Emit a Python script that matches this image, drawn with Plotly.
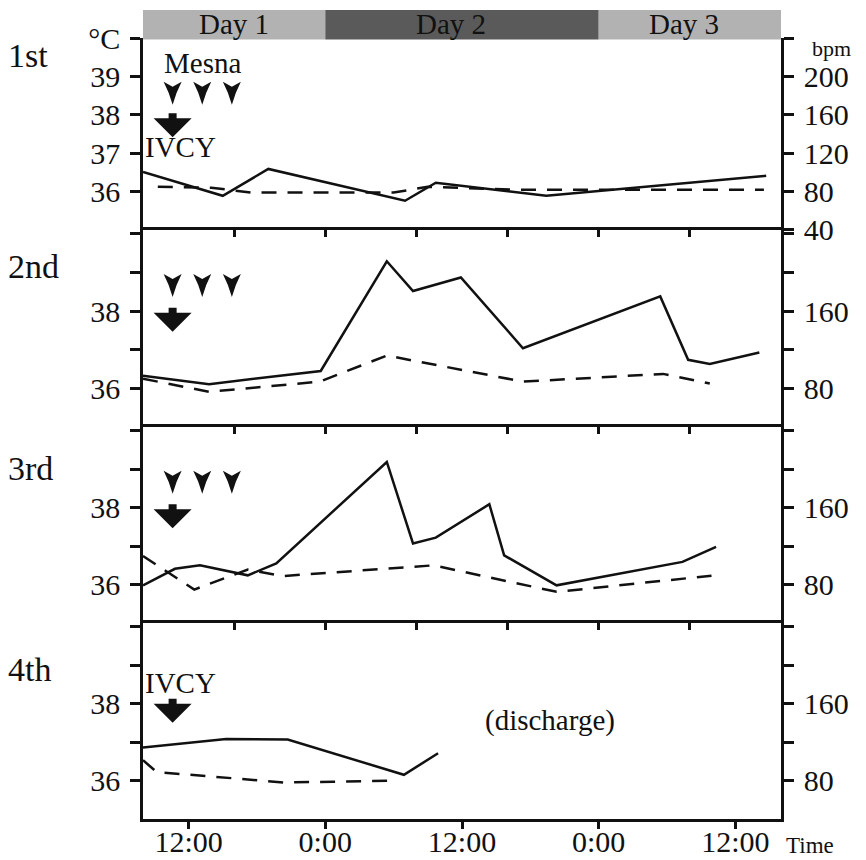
import plotly.graph_objects as go

# ---------------- data (time in hours from Day 1 0:00) ----------------
# Panel 1 (1st course)
p1_temp_t = [8, 15, 19, 31, 33.7, 43.4, 62.7]
p1_temp = [36.51, 35.89, 36.59, 35.76, 36.23, 35.89, 36.41]
p1_hr_t = [9.3, 14, 17.5, 30, 33, 40.5, 62.5]
p1_hr = [85, 84, 79, 79, 85, 82, 82]

# Panel 2 (2nd course)
p2_temp_t = [8, 13.8, 23.6, 29.4, 31.7, 35.9, 41.35, 53.4, 55.85, 57.75, 62.1]
p2_temp = [36.33, 36.11, 36.45, 39.29, 38.52, 38.87, 37.04, 38.38, 36.74, 36.63, 36.93]
p2_hr_t = [8, 13.8, 23.5, 29.4, 41.35, 53.65, 57.75]
p2_hr = [90, 76.5, 87, 114, 87, 95, 85]

# Panel 3 (3rd course)
p3_temp_t = [8, 10.8, 13, 17.2, 19.7, 29.4, 31.7, 33.7, 38.4, 39.7, 44.3, 55.35, 58.3]
p3_temp = [35.98, 36.41, 36.50, 36.24, 36.55, 39.19, 37.07, 37.22, 38.09, 36.76, 35.98, 36.59, 36.98]
p3_hr_t = [8, 12.5, 17.2, 20.2, 33.5, 44.3, 57.9]
p3_hr = [109.6, 74.8, 95.6, 88.8, 100, 72.4, 89.2]

# Panel 4 (4th course)
p4_temp_t = [8, 15.3, 20.7, 30.9, 33.9]
p4_temp = [36.86, 37.08, 37.07, 36.15, 36.71]
p4_hr_t = [8, 9.2, 15.9, 20.3, 24.7, 30.25]
p4_hr = [101.2, 88.8, 82.4, 78, 78.8, 80]

panel_labels = ["1st", "2nd", "3rd", "4th"]
day_labels = ["Day 1", "Day 2", "Day 3"]
day_bounds = [8, 24, 48, 64]
day_label_t = [16, 35, 55.5]
time_tickvals = [12, 24, 36, 48, 60]
time_ticktext = ["12:00", "0:00", "12:00", "0:00", "12:00"]
mesna_times = [10.6, 13.2, 15.8]
ivcy_time = 10.6

# ---------------- figure ----------------
FONT = "Liberation Serif"
LW = 2.5
fig = go.Figure()

panels = [
    (p1_temp_t, p1_temp, p1_hr_t, p1_hr),
    (p2_temp_t, p2_temp, p2_hr_t, p2_hr),
    (p3_temp_t, p3_temp, p3_hr_t, p3_hr),
    (p4_temp_t, p4_temp, p4_hr_t, p4_hr),
]
domains = [[0.7542, 1.0], [0.5019, 0.7542], [0.2510, 0.5019], [0.0, 0.2510]]

def yname(i, right=False):
    n = 2 * i + (2 if right else 1)
    return "y" if n == 1 else f"y{n}"

def ykey(i, right=False):
    n = 2 * i + (2 if right else 1)
    return "yaxis" if n == 1 else f"yaxis{n}"

for i, (tt, tv, ht, hv) in enumerate(panels):
    fig.add_trace(go.Scatter(x=tt, y=tv, xaxis="x", yaxis=yname(i), mode="lines",
                             line=dict(color="#111", width=LW), showlegend=False,
                             name="Temperature"))
    fig.add_trace(go.Scatter(x=ht, y=hv, xaxis="x", yaxis=yname(i, True), mode="lines",
                             line=dict(color="#111", width=LW, dash="15px,11px"),
                             showlegend=False, name="Heart rate"))

# dummy traces to attach top tick axes
for k, i in zip([2, 3, 4], [1, 2, 3]):
    fig.add_trace(go.Scatter(x=[36], y=[36], xaxis=f"x{k}", yaxis=yname(i), mode="markers",
                             marker=dict(opacity=0), showlegend=False, hoverinfo="skip"))

axis_common = dict(showline=True, linewidth=LW, linecolor="#111", ticks="outside",
                   tickwidth=LW, tickcolor="#111", showgrid=False, zeroline=False,
                   automargin=False,
                   tickfont=dict(family=FONT, size=30, color="#111"))

layout = dict(
    width=866, height=860,
    margin=dict(l=143, r=85, t=38, b=41, autoexpand=False),
    paper_bgcolor="white", plot_bgcolor="white",
    font=dict(family=FONT, color="#111"),
    xaxis=dict(domain=[0, 1], range=[8, 64], anchor="y7", side="bottom",
               tickvals=time_tickvals, ticktext=time_ticktext, ticklen=7,
               ticklabelstandoff=-13,
               showline=True, linewidth=LW, linecolor="#111", ticks="outside",
               tickwidth=LW, tickcolor="#111", showgrid=False, zeroline=False,
               automargin=False,
               tickfont=dict(family=FONT, size=30, color="#111")),
)
for k, i in zip([2, 3, 4], [1, 2, 3]):
    layout[f"xaxis{k}"] = dict(overlaying="x", anchor=yname(i), side="top", range=[8, 64],
                               tickvals=[16, 24, 32, 40, 48, 56], ticks="inside", ticklen=7,
                               tickwidth=LW, tickcolor="#111", showticklabels=False,
                               showline=True, linewidth=LW, linecolor="#111",
                               showgrid=False, zeroline=False, automargin=False)

for i in range(4):
    if i == 0:
        lrange = [35, 40]
        lt = dict(tickvals=[36, 37, 38, 39, 40], ticktext=["36", "37", "38", "39", "°C"])
        rrange = [40, 240]
        rt = dict(tickvals=[40, 80, 120, 160, 200, 240], ticktext=["40", "80", "120", "160", "200", ""])
    else:
        lrange = [35, 40.1]
        lt = dict(tickvals=[36, 37, 38, 39, 40], ticktext=["36", "", "38", "", ""])
        rrange = [40, 244]
        rt = dict(tickvals=[80, 120, 160, 200, 240], ticktext=["80", "", "160", "", ""])
    layout[ykey(i)] = dict(domain=domains[i], range=lrange, anchor="x", side="left",
                           ticklen=10, ticklabelstandoff=4, **lt, **axis_common)
    layout[ykey(i, True)] = dict(overlaying=yname(i), range=rrange, anchor="x", side="right",
                                 ticklen=10, ticklabelstandoff=4, **rt, **axis_common)

fig.update_layout(**layout)

# ---------------- day band ----------------
day_colors = ["#b2b2b2", "#5a5a5a", "#b2b2b2"]
for j in range(3):
    fig.add_shape(type="rect", xref="x", yref="paper", x0=day_bounds[j], x1=day_bounds[j + 1],
                  y0=0.998, y1=1.036, fillcolor=day_colors[j], line=dict(width=0), layer="below")
    fig.add_annotation(x=day_label_t[j], y=1.0175, xref="x", yref="paper", text=day_labels[j],
                       showarrow=False, font=dict(family=FONT, size=29, color="#111"),
                       xanchor="center", yanchor="middle")

# ---------------- panel labels ----------------
label_y = [0.978, 0.707, 0.449, 0.191]
for i in range(4):
    fig.add_annotation(x=-0.214, y=label_y[i], xref="paper", yref="paper", text=panel_labels[i],
                       showarrow=False, font=dict(family=FONT, size=34, color="#111"),
                       xanchor="left", yanchor="middle")

fig.add_annotation(x=1.045, y=0.987, xref="paper", yref="paper", text="bpm", showarrow=False,
                   font=dict(family=FONT, size=22, color="#111"), xanchor="left", yanchor="middle")
fig.add_annotation(x=1.005, y=-0.034, xref="paper", yref="paper", text="Time", showarrow=False,
                   font=dict(family=FONT, size=23, color="#111"), xanchor="left", yanchor="middle")

# ---------------- treatment markers ----------------
mesna_path = "M -9,0 L 0,-5 L 9,0 L 4,-11 L 0,-23 L -4,-11 Z"
ivcy_path = "M -4,0 L 4,0 L 4,-5 L 19,-5 L 0,-24 L -19,-5 L -4,-5 Z"

def add_path(path, xa, ya, yref):
    fig.add_shape(type="path", xref="x", yref=yref, xsizemode="pixel", ysizemode="pixel",
                  xanchor=xa, yanchor=ya, path=path, fillcolor="#111", line=dict(width=0))

mesna_y = [38.86, 38.96, 38.96]
ivcy_y = [38.04, 38.09, 38.09, 38.13]
for i in range(3):
    for mt in mesna_times:
        add_path(mesna_path, mt, mesna_y[i], yname(i))
for i in range(4):
    add_path(ivcy_path, ivcy_time, ivcy_y[i], yname(i))

fig.add_annotation(x=13.2, y=39.35, xref="x", yref="y", text="Mesna", showarrow=False,
                   font=dict(family=FONT, size=29, color="#111"), xanchor="center", yanchor="middle")
fig.add_annotation(x=11.3, y=37.16, xref="x", yref="y", text="IVCY", showarrow=False,
                   font=dict(family=FONT, size=29, color="#111"), xanchor="center", yanchor="middle")
fig.add_annotation(x=11.3, y=38.54, xref="x", yref="y7", text="IVCY", showarrow=False,
                   font=dict(family=FONT, size=29, color="#111"), xanchor="center", yanchor="middle")
fig.add_annotation(x=43.7, y=37.55, xref="x", yref="y7", text="(discharge)", showarrow=False,
                   font=dict(family=FONT, size=29, color="#111"), xanchor="center", yanchor="middle")

fig.write_html("out.html", config={"displayModeBar": False},
               post_script="document.body.style.margin='0';")
